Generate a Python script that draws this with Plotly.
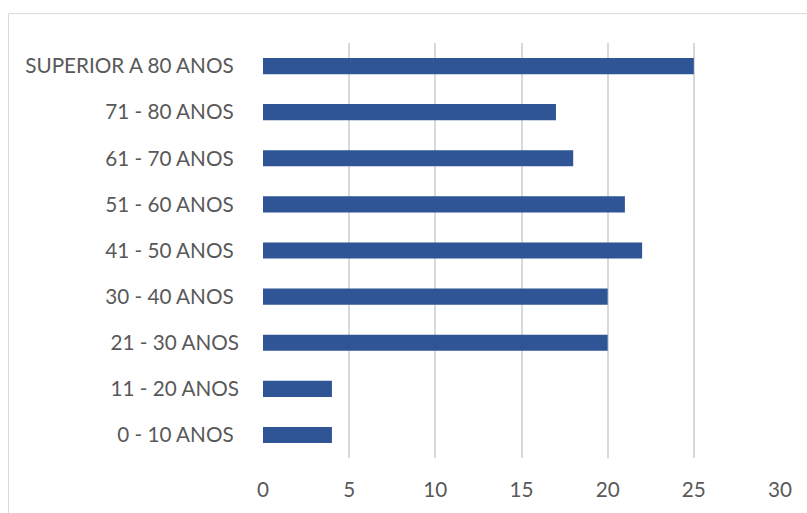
import plotly.graph_objects as go

categories = ["0 - 10 ANOS\u00a0", "11 - 20 ANOS", "21 - 30 ANOS", "30 - 40 ANOS\u00a0",
              "41 - 50 ANOS\u00a0", "51 - 60 ANOS\u00a0", "61 - 70 ANOS\u00a0",
              "71 - 80 ANOS\u00a0", "SUPERIOR A 80 ANOS\u00a0"]
values = [4, 4, 20, 20, 22, 21, 18, 17, 25]
x_ticks = [0, 5, 10, 15, 20, 25, 30]

W, H = 807, 513
L, R, T, B = 263, 27, 43, 53
pw, ph = W - L - R, H - T - B

fig = go.Figure(go.Bar(
    x=values, y=categories, orientation="h",
    marker=dict(color="#2F5597", line=dict(width=0)),
    width=0.35,
))

def px_x(p):
    return (p - L) / pw

def px_y(p):
    return (H - B - p) / ph

fig.add_shape(type="rect", xref="paper", yref="paper",
              x0=px_x(8.5), x1=px_x(820), y0=px_y(530), y1=px_y(13.5),
              line=dict(color="#D9D9D9", width=1), fillcolor="rgba(0,0,0,0)", layer="below")

font = dict(family="Lato, Liberation Sans, Arial, sans-serif", size=20.7, color="#595959")
fig.update_layout(
    width=W, height=H,
    margin=dict(l=L, r=R, t=T, b=B, pad=0),
    paper_bgcolor="white", plot_bgcolor="white",
    showlegend=False,
    font=font,
    xaxis=dict(range=[0, 30], tickvals=x_ticks, ticktext=[str(v) for v in x_ticks],
               showgrid=True, gridcolor="#D9D9D9", gridwidth=1.5,
               zeroline=False, showline=False, ticks="", ticklabelstandoff=17,
               tickfont=font, fixedrange=True),
    yaxis=dict(type="category", categoryorder="array", categoryarray=categories,
               showgrid=False, zeroline=False, showline=False, ticks="",
               ticklabelstandoff=23, tickfont=font, fixedrange=True),
)

fig.write_html("out.html")
